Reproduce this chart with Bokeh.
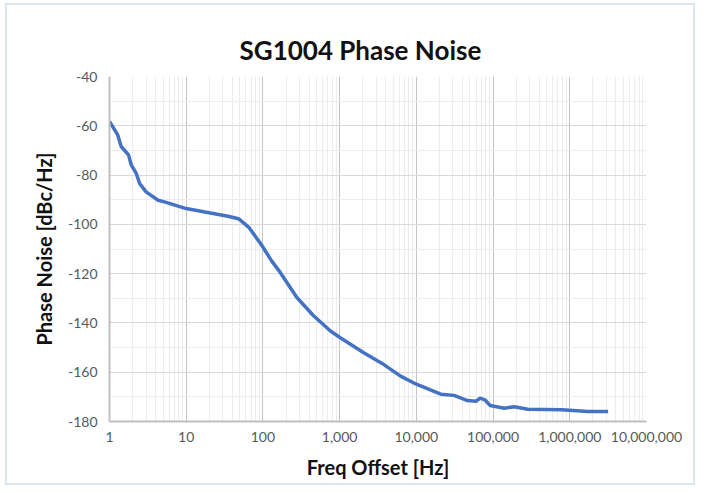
from bokeh.plotting import figure
from bokeh.models import FixedTicker, Range1d
from bokeh.embed import file_html
from bokeh.resources import INLINE

# Data
freq_hz = [1, 1.28, 1.42, 1.77, 1.92, 2.23, 2.47, 3.0, 4.3, 5.2, 10, 17.5, 35, 48, 65,
           97, 129, 168, 277, 457, 760, 1020, 2060, 3770, 6230, 9300, 20800, 31000,
           46400, 59700, 67800, 78000, 91700, 140000, 189000, 283000, 780000, 1730000, 3160000]
phase_noise = [-58.2, -63.7, -68.4, -71.8, -75.9, -79.3, -83.4, -86.8, -90.2, -90.9, -93.6, -95.0,
               -96.7, -97.7, -101.1, -108.6, -114.7, -119.5, -129.7, -137.1, -143.3, -146.0,
               -152.1, -156.9, -161.6, -164.4, -168.9, -169.4, -171.5, -171.8, -170.5, -171.2,
               -173.5, -174.6, -174.0, -175.0, -175.2, -175.9, -175.9]

x_ticks = [1, 10, 100, 1000, 10000, 100000, 1000000, 10000000]
x_tick_labels = ["1", "10", "100", "1,000", "10,000", "100,000", "1,000,000", "10,000,000"]
y_ticks = [-180, -160, -140, -120, -100, -80, -60, -40]
y_tick_labels = ["-180", "-160", "-140", "-120", "-100", "-80", "-60", "-40"]
y_minor = [-170, -150, -130, -110, -90, -70, -50]

x_minor = [m * d for d in x_ticks[:-1] for m in range(2, 10)]

FONT = "Lato"

p = figure(width=690, height=482, x_axis_type="log",
           x_range=Range1d(1, 1e7), y_range=Range1d(-180, -40),
           output_backend="svg", toolbar_location=None,
           min_border_left=102, min_border_right=51, min_border_top=71, min_border_bottom=66,
           title="SG1004 Phase Noise")
p.styles = {"border": "2px solid #dde7f4", "margin-left": "5px", "margin-top": "3px"}

p.title.align = "left"
p.title.offset = 130
p.title.text_font = FONT
p.title.text_font_size = "26px"
p.title.text_font_style = "bold"
p.title.text_color = "#111111"
p.title.standoff = 21

p.outline_line_color = None

p.xaxis.ticker = FixedTicker(ticks=x_ticks, minor_ticks=x_minor)
p.xaxis.major_label_overrides = {t: l for t, l in zip(x_ticks, x_tick_labels)}
p.yaxis.ticker = FixedTicker(ticks=y_ticks, minor_ticks=y_minor)
p.yaxis.major_label_overrides = {t: l for t, l in zip(y_ticks, y_tick_labels)}

for ax in (p.xaxis, p.yaxis):
    ax.axis_line_color = "#bfbfbf"
    ax.axis_line_width = 2
    ax.major_tick_line_color = None
    ax.minor_tick_line_color = None
    ax.major_tick_out = 0
    ax.minor_tick_out = 0
    ax.major_label_text_font = FONT
    ax.major_label_text_font_size = "14px"
    ax.major_label_text_color = "#595959"
    ax.axis_label_text_font = FONT
    ax.axis_label_text_font_size = "20px"
    ax.axis_label_text_font_style = "bold"
    ax.axis_label_text_color = "#111111"

p.xaxis.axis_label = "Freq Offset [Hz]"
p.yaxis.axis_label = "Phase Noise [dBc/Hz]"
p.xaxis.major_label_standoff = 10
p.yaxis.major_label_standoff = 12
p.xaxis.axis_label_standoff = 10
p.yaxis.axis_label_standoff = 9

p.xgrid.grid_line_color = "#c4c4c4"
p.ygrid.grid_line_color = "#d9d9d9"
p.xgrid.minor_grid_line_color = "#ececec"
p.ygrid.minor_grid_line_color = "#ececec"

p.line(freq_hz, phase_noise, line_color="#4472c4", line_width=3.5)

open("out.html", "w").write(file_html(p, INLINE))
